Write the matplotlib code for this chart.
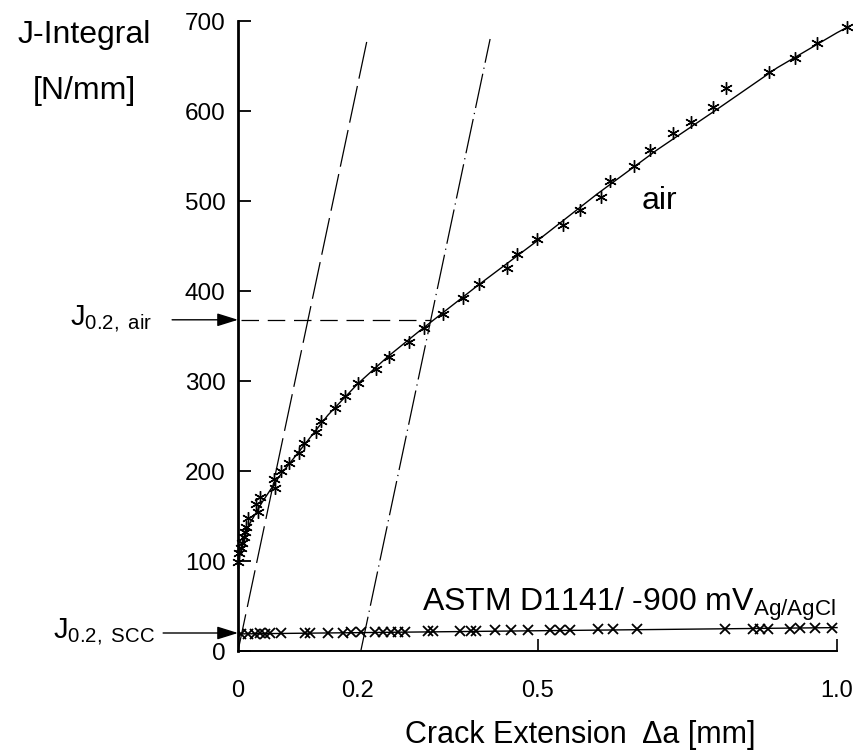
import numpy as np
import matplotlib
matplotlib.use("Agg")
import matplotlib.pyplot as plt

plt.rcParams['font.family'] = ['Liberation Sans', 'DejaVu Sans']
plt.rcParams['mathtext.fontset'] = 'custom'
plt.rcParams['mathtext.rm'] = 'Liberation Sans'
plt.rcParams['mathtext.it'] = 'Liberation Sans'

# air test: measured points (crack extension mm, J N/mm)
air_da = [0.0, 0.002, 0.005, 0.007, 0.010, 0.012, 0.013, 0.017, 0.033, 0.030,
          0.037, 0.062, 0.060, 0.072, 0.085, 0.102, 0.110, 0.130, 0.139, 0.162,
          0.179, 0.200, 0.230, 0.252, 0.285, 0.310, 0.342, 0.376, 0.402, 0.449,
          0.466, 0.499, 0.543, 0.571, 0.606, 0.621, 0.661, 0.688, 0.726, 0.756,
          0.793, 0.815, 0.886, 0.930, 0.967, 1.017]
air_J = [99, 109, 115, 120, 127, 132, 138, 148, 154, 163,
         171, 181, 191, 200, 209, 220, 231, 243, 256, 270,
         283, 298, 313, 327, 343, 359, 374, 392, 408, 426,
         441, 458, 473, 490, 504, 522, 539, 557, 576, 588,
         604, 626, 643, 659, 676, 693]

# fitted R-curve (air)
fit_da = [0, 0.01, 0.02, 0.04, 0.07, 0.10, 0.15, 0.20, 0.25, 0.30, 0.35, 0.40,
          0.50, 0.60, 0.70, 0.80, 0.90, 1.00, 1.017]
fit_J = [98, 125, 142, 165, 195, 220, 262, 297, 327, 354, 380, 406,
         456, 508, 557, 602, 648, 687, 693]

# SCC test (ASTM D1141 / -900 mV)
scc_da = [0.005, 0.017, 0.028, 0.037, 0.045, 0.053, 0.072, 0.112, 0.120, 0.150,
          0.175, 0.189, 0.205, 0.228, 0.242, 0.255, 0.267, 0.278, 0.317, 0.325,
          0.370, 0.389, 0.397, 0.429, 0.456, 0.484, 0.521, 0.538, 0.554, 0.601,
          0.626, 0.666, 0.813, 0.860, 0.871, 0.885, 0.922, 0.938, 0.963, 0.992]
scc_J = [19, 19, 19, 20, 19, 20, 20, 20, 20, 20,
         20, 21, 21, 21, 21, 21, 21, 21, 22, 22,
         22, 22, 22, 23, 23, 23, 23, 23, 23, 24,
         24, 24, 25, 25, 25, 25, 25, 26, 26, 26]
scc_fit_da = [0.0, 1.0]
scc_fit_J = [19, 26]

# blunting lines
blunt_slope = 3150
blunt_offset = [0.0, 0.205]
blunt_top = 680
J02_air = 368
J02_scc = 20
da_cross = 0.322

fig = plt.figure(figsize=(8.54, 7.55), dpi=100)
ax = fig.add_axes([238/854, 104/755, 614/854, 648/755])

ax.plot(fit_da, fit_J, color='k', lw=1.0)
ax.plot(air_da, air_J, ls='none', marker=(6, 2, 0), ms=9, mew=1.0, color='k', clip_on=False)
ax.plot(scc_fit_da, scc_fit_J, color='k', lw=1.0)
ax.plot(scc_da, scc_J, ls='none', marker='x', ms=6.5, mew=1.3, color='k')

# blunting lines
x0 = blunt_offset[0]
ax.plot([x0, x0 + blunt_top / blunt_slope], [0, blunt_top], color='k', lw=0.9,
        dashes=(30, 6))
x1 = blunt_offset[1]
ax.plot([x1, x1 + blunt_top / blunt_slope], [0, blunt_top], color='k', lw=0.9,
        dashes=(28, 4, 1, 4))

# J0.2 construction
ax.plot([0.005, da_cross], [J02_air, J02_air], color='k', lw=0.9, dashes=(14, 7))

ax.annotate('', xy=(0, J02_air), xytext=(-0.11, J02_air),
            arrowprops=dict(arrowstyle='-|>,head_length=0.8,head_width=0.25', color='k',
                            lw=1.0, mutation_scale=16, shrinkA=0, shrinkB=0),
            annotation_clip=False)
ax.annotate('', xy=(0, J02_scc), xytext=(-0.125, J02_scc),
            arrowprops=dict(arrowstyle='-|>,head_length=0.8,head_width=0.25', color='k',
                            lw=1.0, mutation_scale=16, shrinkA=0, shrinkB=0),
            annotation_clip=False)
ax.text(-0.143, J02_air, r'J$_{\mathrm{0.2,\ air}}$', fontsize=21, ha='right', va='center')
ax.text(-0.138, J02_scc, r'J$_{\mathrm{0.2,\ SCC}}$', fontsize=21, ha='right', va='center')

ax.text(0.703, 500, 'air', fontsize=23, ha='center', va='center')
ax.text(0.998, 45, r'ASTM D1141/ -900 mV$_{\mathrm{Ag/AgCl}}$', fontsize=23,
        ha='right', va='baseline')

ax.set_xlim(0, 1.025)
ax.set_ylim(0, 720)
for s in ['top', 'right']:
    ax.spines[s].set_visible(False)
ax.spines['left'].set_bounds(0, 700)
ax.spines['bottom'].set_bounds(0, 1.0)
ax.spines['left'].set_linewidth(2.0)
ax.spines['bottom'].set_linewidth(1.4)

ax.set_yticks(range(0, 701, 100))
ax.tick_params(axis='y', direction='in', length=9, width=1.3, labelsize=17.5, pad=9)
ax.set_xticks([0, 0.2, 0.5, 1.0])
ax.set_xticklabels(['0', '0.2', '0.5', '1.0'])
ax.tick_params(axis='x', direction='in', length=9, width=1.2, labelsize=17, pad=21)
for t in ax.xaxis.get_major_ticks()[:2]:
    t.tick1line.set_visible(False)

fig.text(84/854, 1 - 35/755, 'J-Integral', fontsize=23, ha='center', va='center')
fig.text(84/854, 1 - 91/755, '[N/mm]', fontsize=23, ha='center', va='center')
fig.text(580/854, 1 - 735/755, 'Crack Extension  \u0394a [mm]', fontsize=22,
         ha='center', va='center')

fig.savefig('out.png', dpi=100)
